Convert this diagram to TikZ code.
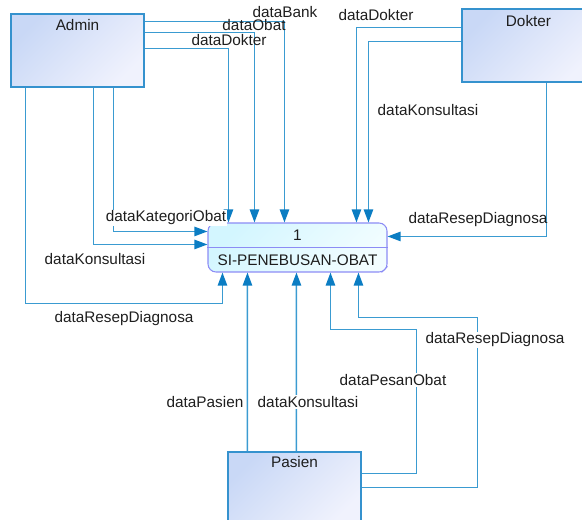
\documentclass[tikz,border=0pt]{standalone}
\usepackage{fontspec}
\setmainfont{Liberation Sans}
\usepackage{xcolor}
\usetikzlibrary{arrows.meta, calc}

\definecolor{flowblue}{HTML}{3A9BD1}
\definecolor{tipblue}{HTML}{0B7DC3}
\definecolor{entedge}{HTML}{3592CE}
\definecolor{enttop}{HTML}{C9D8F6}
\definecolor{entbot}{HTML}{F0F2FD}
\definecolor{procedge}{HTML}{8C8CF5}
\definecolor{proctop}{HTML}{D3F6FF}
\definecolor{procbot}{HTML}{F2FDFF}
\definecolor{ink}{HTML}{1E1E1E}

\begin{document}
\begin{tikzpicture}[
  x=0.75pt, y=-0.75pt,
  font=\fontsize{11.5}{13}\selectfont, text=ink,
  entity/.style={rectangle, draw=entedge, line width=0.9pt, top color=enttop, bottom color=entbot, shading angle=45, minimum width=99.75pt, minimum height=54.75pt, inner sep=0pt},
  proc/.style={rectangle, rounded corners=6pt, draw=procedge, line width=0.8pt, top color=proctop, bottom color=procbot, shading angle=45, minimum width=134.25pt, minimum height=36.75pt, inner sep=0pt},
  flow/.style={draw=flowblue, line width=1.1pt, -{Triangle[length=9.75pt, width=7pt, color=tipblue]}},
  flowlbl/.style={inner sep=1pt},
  gaplbl/.style={flowlbl, fill=white}
]
\useasboundingbox (0,0) rectangle (582,520);

% External entities
\node[entity] (admin) at (77.5,50.5) {};
\node[entity] (dokter) at (528.5,45.5) {};
\node[entity] (pasien) at (294.5,488.5) {};
\node (admin-t) at ($(admin.north)+(0,12)$) {Admin};
\node (dokter-t) at ($(dokter.north)+(0,13)$) {Dokter};
\node (pasien-t) at ($(pasien.north)+(0,11)$) {Pasien};

% Process
\node[proc] (proc) at (297.5,247.5) {};
\draw[procedge, line width=0.8pt] (proc.west) -- (proc.east);
\draw[procedge, line width=0.6pt] ($(proc.south east)+(-6,0)$) -- ($(proc.south east)+(0,-6)$);
\node (proc-id) at ($(proc.north)!0.26!(proc.south)$) {1};
\node (proc-name) at ($(proc.north)!0.76!(proc.south)$) {SI-PENEBUSAN-OBAT};

% Admin flows
\draw[flow] ($(admin.north east)+(0,8)$) -| ($(proc.north west)+(77,0)$);
\draw[flow] ($(admin.north east)+(0,19)$) -| ($(proc.north west)+(47,0)$);
\draw[flow] ($(admin.north east)+(0,35)$) -| ($(proc.north west)+(21,0)$);
\draw[flow] ($(admin.south west)+(103,0)$) |- ($(proc.north west)+(0,9)$);
\draw[flow] ($(admin.south west)+(83,0)$) |- ($(proc.north west)+(0,22)$);
\draw[flow] ($(admin.south west)+(15,0)$) |- ($(proc.south west)+(15,31)$) -- ($(proc.south west)+(15,0)$);

% Dokter flows
\draw[flow] ($(dokter.north west)+(0,19)$) -| ($(proc.north west)+(149,0)$);
\draw[flow] ($(dokter.north west)+(0,33)$) -| ($(proc.north west)+(161,0)$);
\draw[flow] ($(dokter.south west)+(85,0)$) |- ($(proc.north east)+(0,14)$);

% Pasien flows
\draw[flow] ($(pasien.north west)+(20,0)$) -- ($(proc.south west)+(40,0)$);
\draw[flow] ($(pasien.north west)+(69,0)$) -- ($(proc.south west)+(89,0)$);
\draw[flow] ($(pasien.north east)+(0,22)$) -| ($(proc.south west)+(209,57)$) -| ($(proc.south west)+(123,0)$);
\draw[flow] ($(pasien.north east)+(0,36)$) -| ($(proc.south west)+(270,45)$) -| ($(proc.south west)+(151,0)$);

% Flow labels
\node[flowlbl] (l-bank) at (285,12) {dataBank};
\node[flowlbl] (l-obat) at (254,25) {dataObat};
\node[flowlbl] (l-dokter-a) at (229,40) {dataDokter};
\node[gaplbl] (l-kategori) at (166,218) {dataKategoriObat};
\node[flowlbl] (l-konsul-a) at (95,259) {dataKonsultasi};
\node[flowlbl] (l-resep-a) at (124,319) {dataResepDiagnosa};
\node[flowlbl] (l-dokter-d) at (376,15) {dataDokter};
\node[flowlbl] (l-konsul-d) at (428,110) {dataKonsultasi};
\node[flowlbl] (l-resep-d) at (478,220) {dataResepDiagnosa};
\node[flowlbl] (l-pasien) at (205,402) {dataPasien};
\node[gaplbl] (l-konsul-p) at (308,402) {dataKonsultasi};
\node[gaplbl] (l-pesan) at (393,380) {dataPesanObat};
\node[gaplbl] (l-resep-p) at (495,340) {dataResepDiagnosa};

\end{tikzpicture}
\end{document}
